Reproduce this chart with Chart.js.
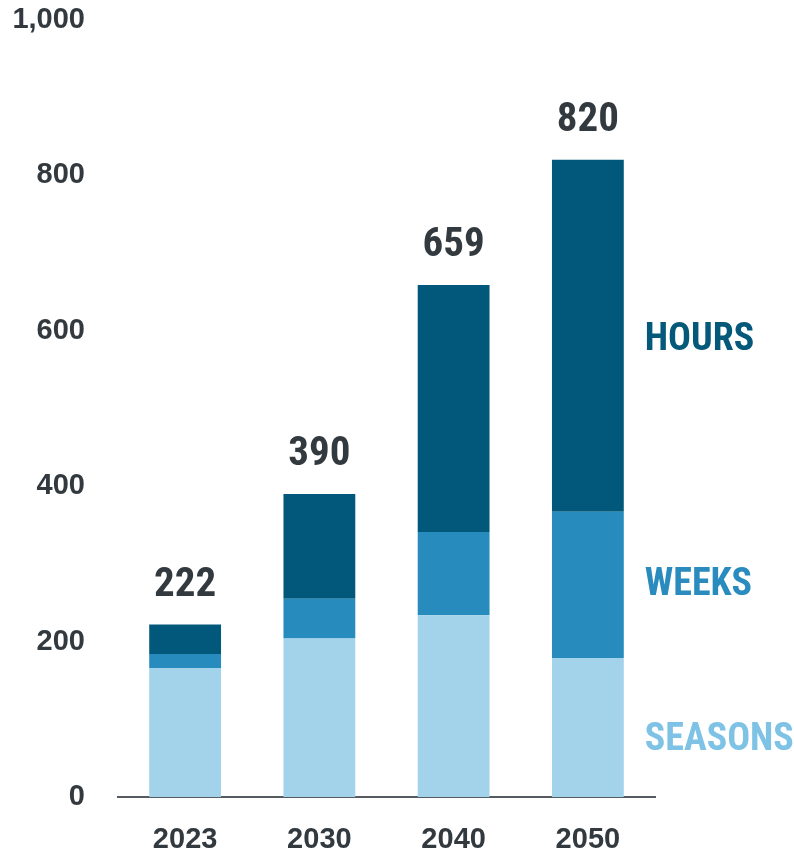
<!DOCTYPE html>
<html>
<head>
<meta charset="utf-8">
<script src="https://cdn.jsdelivr.net/npm/chart.js@4"></script>
<style>
  html, body { margin: 0; padding: 0; background: #fff; }
  #wrap { width: 794px; height: 854px; position: relative; }
</style>
</head>
<body>
<div id="wrap"><canvas id="chart" width="794" height="854"></canvas></div>
<script>
// data
const years = ['2023', '2030', '2040', '2050'];
const seasons = [166, 204, 234, 179];
const weeks = [18, 51, 107, 188];
const hours = [38, 135, 318, 453];
const totals = [222, 390, 659, 820];
const yTicks = [0, 200, 400, 600, 800, 1000];

const DARK = '#333a3f';
const NARROW = '"Liberation Sans Narrow", "Roboto Condensed", Roboto, sans-serif';
const ARIAL = '"Liberation Sans", Arial, sans-serif';

// totals above the bars + series names to the right of the last bar
const labelPlugin = {
  id: 'labels',
  afterDatasetsDraw(chart) {
    const ctx = chart.ctx;
    const top = chart.getDatasetMeta(2);
    ctx.save();
    ctx.textAlign = 'center';
    ctx.textBaseline = 'middle';
    ctx.fillStyle = DARK;
    ctx.font = 'bold 41px ' + NARROW;
    top.data.forEach((bar, i) => {
      ctx.fillText(totals[i], bar.x, bar.y - 39);
    });

    const last = years.length - 1;
    const names = [['SEASONS', '#7ec3e6', 0, -13], ['WEEKS', '#2a8bbe', 1, -1], ['HOURS', '#04587a', 2, -5]];
    ctx.textAlign = 'left';
    ctx.font = 'bold 38px ' + NARROW;
    names.forEach(([txt, col, di, dy]) => {
      const b = chart.getDatasetMeta(di).data[last];
      ctx.fillStyle = col;
      ctx.fillText(txt, b.x + b.width / 2 + 21, (b.y + b.base) / 2 - dy);
    });
    ctx.restore();
  }
};

new Chart(document.getElementById('chart'), {
  type: 'bar',
  data: {
    labels: years,
    datasets: [
      { label: 'SEASONS', data: seasons, backgroundColor: '#a3d3eb' },
      { label: 'WEEKS', data: weeks, backgroundColor: '#288bbe' },
      { label: 'HOURS', data: hours, backgroundColor: '#02587a' }
    ]
  },
  options: {
    responsive: false,
    animation: false,
    layout: { padding: { top: 20, right: 139, bottom: 0, left: 0 } },
    plugins: { legend: { display: false }, tooltip: { enabled: false } },
    datasets: { bar: { categoryPercentage: 0.535, barPercentage: 1 } },
    scales: {
      x: {
        stacked: true,
        grid: { display: false, drawTicks: false },
        border: { display: true, color: '#555b60', width: 2 },
        ticks: { color: DARK, padding: 26, font: { family: ARIAL, size: 29, weight: 'bold' } },
        afterFit(s) { s.height = 57; s.paddingLeft = 0; s.paddingRight = 0; }
      },
      y: {
        stacked: true,
        min: 0,
        max: 1000,
        afterBuildTicks(s) { s.ticks = yTicks.map(v => ({ value: v })); },
        grid: { display: false, drawTicks: false },
        border: { display: false },
        ticks: {
          color: DARK,
          padding: 33,
          font: { family: ARIAL, size: 29, weight: 'bold' },
          callback: v => v.toLocaleString('en-US')
        },
        afterFit(s) { s.width = 118; s.paddingTop = 0; s.paddingBottom = 0; }
      }
    }
  },
  plugins: [labelPlugin]
});
</script>
</body>
</html>
